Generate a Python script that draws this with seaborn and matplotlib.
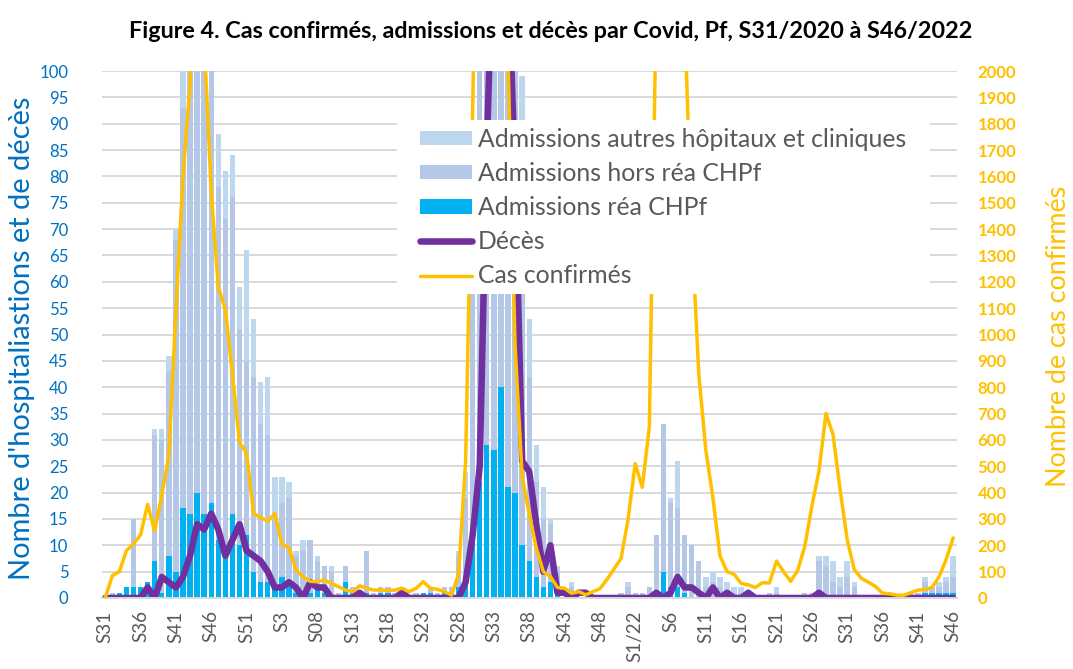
import numpy as np
import pandas as pd
import matplotlib
matplotlib.use("Agg")
import matplotlib.pyplot as plt
import seaborn as sns
from matplotlib.patches import Patch, Rectangle
from matplotlib.lines import Line2D

# ---------------- data (weekly, S31/2020 .. S46/2022) ----------------
tick_labels = ["S31", "S36", "S41", "S46", "S51", "S3", "S08", "S13", "S18", "S23",
               "S28", "S33", "S38", "S43", "S48", "S1/22", "S6", "S11", "S16", "S21",
               "S26", "S31", "S36", "S41", "S46"]

rea = [0, 0, 1, 2, 2, 2, 3, 7, 1, 8,
       5, 17, 16, 20, 16, 18, 11, 10, 16, 10,
       12, 5, 3, 3, 2, 4, 3, 1, 1, 1,
       2, 1, 0, 0, 3, 1, 0, 1, 0, 1,
       1, 0, 0, 0, 0, 1, 1, 0, 1, 1,
       2, 3, 13, 22, 29, 28, 40, 21, 20, 10,
       7, 4, 2, 3, 1, 0, 0, 0, 0, 0,
       0, 0, 0, 0, 0, 0, 0, 0, 0, 5,
       2, 2, 1, 0, 0, 0, 0, 0, 0, 0,
       0, 0, 0, 0, 0, 0, 0, 0, 0, 0,
       0, 0, 0, 0, 0, 0, 0, 0, 0, 0,
       0, 0, 0, 0, 0, 0, 1, 1, 1, 1,
       1]

hors = [0, 1, 0, 0, 13, 0, 0, 24, 29, 35,
        63, 76, 95, 100, 105, 95, 67, 62, 60, 41,
        33, 37, 30, 28, 13, 14, 16, 7, 8, 10,
        5, 5, 5, 1, 3, 1, 1, 8, 1, 1,
        1, 1, 1, 0, 1, 0, 1, 1, 1, 1,
        6, 16, 55, 85, 95, 100, 90, 90, 82, 60,
        35, 18, 13, 11, 4, 0, 2, 0, 0, 0,
        0, 0, 0, 1, 2, 1, 1, 2, 12, 28,
        16, 15, 11, 10, 7, 2, 3, 2, 1, 1,
        1, 1, 0, 0, 1, 1, 0, 0, 0, 1,
        1, 7, 6, 3, 2, 4, 2, 0, 0, 0,
        0, 0, 0, 0, 1, 1, 2, 1, 1, 2,
        3]

autres = [0, 0, 0, 0, 0, 0, 0, 1, 2, 3,
          2, 15, 15, 20, 15, 12, 10, 9, 8, 8,
          21, 11, 8, 11, 8, 5, 3, 1, 2, 0,
          1, 0, 1, 0, 0, 0, 0, 0, 0, 0,
          0, 0, 0, 0, 0, 0, 0, 0, 0, 0,
          1, 5, 12, 20, 25, 30, 25, 20, 8, 29,
          11, 7, 6, 1, 1, 0, 1, 0, 0, 0,
          0, 0, 0, 0, 1, 0, 0, 0, 0, 0,
          1, 9, 0, 0, 0, 2, 2, 2, 2, 1,
          1, 0, 0, 0, 0, 1, 0, 0, 0, 0,
          0, 1, 2, 4, 2, 3, 1, 0, 0, 0,
          0, 0, 0, 0, 0, 0, 1, 0, 1, 1,
          4]

deces = [0, 0, 0, 0, 0, 0, 2, 0, 4, 3,
         2, 4, 8, 14, 13, 16, 13, 8, 11, 14,
         9, 8, 7, 5, 2, 2, 3, 2, 0, 3,
         2, 2, 0, 0, 0, 0, 1, 0, 0, 0,
         0, 0, 1, 0, 0, 0, 0, 0, 0, 0,
         0, 3, 12, 25, 85, 130, 150, 120, 80, 26,
         24, 14, 5, 10, 1, 1, 0, 1, 1, 0,
         0, 0, 0, 0, 0, 0, 0, 0, 1, 0,
         1, 4, 2, 2, 1, 0, 2, 0, 1, 0,
         0, 1, 0, 0, 0, 0, 0, 0, 0, 0,
         0, 1, 0, 0, 0, 0, 0, 0, 0, 0,
         0, 0, 0, 0, 0, 0, 0, 0, 0, 0,
         0]

cas = [0, 85, 100, 180, 205, 240, 355, 255, 390, 540,
       1090, 1600, 1950, 2600, 2120, 1540, 1180, 1095, 850, 590,
       550, 320, 305, 292, 320, 205, 190, 106, 81, 63,
       62, 68, 56, 43, 30, 24, 46, 37, 30, 30,
       28, 30, 37, 24, 37, 62, 37, 33, 24, 11,
       90, 520, 1850, 3500, 5500, 5000, 3500, 2050, 960, 460,
       320, 190, 100, 81, 40, 37, 18, 24, 12, 24,
       35, 70, 110, 150, 300, 510, 420, 650, 2300, 5000,
       8000, 6000, 2200, 1400, 850, 560, 380, 160, 100, 90,
       55, 50, 40, 58, 57, 140, 100, 63, 105, 196,
       348, 480, 700, 620, 411, 222, 108, 75, 60, 44,
       18, 16, 11, 10, 20, 30, 32, 40, 80, 146,
       228]

N = len(rea)
assert all(len(a) == N for a in (hors, autres, deces, cas))
idx = np.arange(N)
df = pd.DataFrame({"semaine": idx, "rea": rea, "hors": hors, "autres": autres,
                   "deces": deces, "cas": cas})
df["rea_hors"] = df["rea"] + df["hors"]
df["total"] = df["rea_hors"] + df["autres"]

# ---------------- style ----------------
sns.set_style("white")
plt.rcParams["font.family"] = ["Lato", "DejaVu Sans"]

C_AUTRES = "#BDD7EE"
C_HORS = "#B4C7E7"
C_REA = "#00B0F0"
C_DECES = "#7030A0"
C_CAS = "#FFC000"
C_BLUE = "#0070C0"
C_TXT = "#595959"
C_GRID = "#D9D9D9"

W, H = 1073, 669
fig = plt.figure(figsize=(W / 100, H / 100), dpi=100)
renderer = fig.canvas.get_renderer()


def fit_size(s, target_px, weight="normal", vertical=False):
    t = fig.text(0, 0, s, fontsize=10, fontweight=weight, rotation=90 if vertical else 0)
    bb = t.get_window_extent(renderer)
    t.remove()
    dim = bb.height if vertical else bb.width
    return 10.0 * target_px / dim


left, right, top, bottom = 101.7, 956.7, 71.0, 598.0
ax = fig.add_axes([left / W, 1 - bottom / H, (right - left) / W, (bottom - top) / H])

# stacked bars (drawn as overlaid cumulative heights)
sns.barplot(data=df, x="semaine", y="total", color=C_AUTRES, width=0.76, saturation=1,
            errorbar=None, linewidth=0, ax=ax)
sns.barplot(data=df, x="semaine", y="rea_hors", color=C_HORS, width=0.76, saturation=1,
            errorbar=None, linewidth=0, ax=ax)
sns.barplot(data=df, x="semaine", y="rea", color=C_REA, width=0.76, saturation=1,
            errorbar=None, linewidth=0, ax=ax)

# deaths line (left axis)
sns.lineplot(data=df, x="semaine", y="deces", color=C_DECES, linewidth=4.7, ax=ax,
             solid_capstyle="round", solid_joinstyle="round")

ax.set_xlim(-0.5, N - 0.5)
ax.set_ylim(0, 100)
ax.set_yticks(np.arange(0, 101, 5))
ax.set_axisbelow(True)
ax.yaxis.grid(True, color=C_GRID, linewidth=1.4)
ax.xaxis.grid(False)
for sp in ("top", "left", "right"):
    ax.spines[sp].set_visible(False)
ax.spines["bottom"].set_color(C_GRID)
ax.spines["bottom"].set_linewidth(1.4)
ax.set_xlabel("")
ax.set_ylabel("")

# cases line (right axis)
ax2 = ax.twinx()
sns.lineplot(data=df, x="semaine", y="cas", color=C_CAS, linewidth=2.5, ax=ax2,
             solid_capstyle="round", solid_joinstyle="round")
ax2.set_ylim(0, 2000)
ax2.set_yticks(np.arange(0, 2001, 100))
ax2.set_xlim(-0.5, N - 0.5)
ax2.grid(False)
for sp in ax2.spines.values():
    sp.set_visible(False)
ax2.set_xlabel("")
ax2.set_ylabel("")

# tick labels
ytick_fs = fit_size("100", 29)
xtick_fs = fit_size("S31", 32, vertical=True)
ax.set_xticks(np.arange(0, N, 5))
ax.set_xticklabels(tick_labels, rotation=90, color=C_TXT, fontsize=xtick_fs, va="top")
ax.tick_params(axis="x", length=0, pad=9)
ax.tick_params(axis="y", length=0, pad=24, labelcolor=C_BLUE, labelsize=ytick_fs)
ax2.tick_params(axis="y", length=0, pad=15, labelcolor=C_CAS, labelsize=ytick_fs)
for t in ax2.get_yticklabels():
    t.set_fontweight("bold")

# title and axis titles
title = "Figure 4. Cas confirmés, admissions et décès par Covid, Pf, S31/2020 à S46/2022"
fig.text(551 / W, 1 - 32 / H, title, ha="center", va="center", fontweight="bold",
         color="black", fontsize=fit_size(title, 847, weight="bold"))
ylab = "Nombre d'hospitaliastions et de décès"
fig.text(22 / W, 1 - 338 / H, ylab, rotation=90, ha="center", va="center",
         color=C_BLUE, fontsize=fit_size(ylab, 485, vertical=True))
y2lab = "Nombre de cas confirmés"
fig.text(1058 / W, 1 - 336 / H, y2lab, rotation=90, ha="center", va="center",
         color=C_CAS, fontsize=fit_size(y2lab, 302, vertical=True))

# legend: white box behind it, covering gridlines / marks
box = Rectangle((397 / W, 1 - 294 / H), (930 - 397) / W, (294 - 120) / H,
                transform=fig.transFigure, facecolor="white", edgecolor="none",
                zorder=9, clip_on=False)
ax2.add_patch(box)

leg_fs = fit_size("Admissions autres hôpitaux et cliniques", 428)
fs_px = leg_fs * 100 / 72
handles = [Patch(facecolor=C_AUTRES, edgecolor="none"),
           Patch(facecolor=C_HORS, edgecolor="none"),
           Patch(facecolor=C_REA, edgecolor="none"),
           Line2D([], [], color=C_DECES, linewidth=4.7, solid_capstyle="round"),
           Line2D([], [], color=C_CAS, linewidth=2.5)]
labels = ["Admissions autres hôpitaux et cliniques", "Admissions hors réa CHPf",
          "Admissions réa CHPf", "Décès", "Cas confirmés"]
leg = ax2.legend(handles, labels, loc="upper left",
                 bbox_to_anchor=(420 / W, 1 - 128 / H), bbox_transform=fig.transFigure,
                 fontsize=leg_fs, frameon=False, borderpad=0, borderaxespad=0,
                 handlelength=52 / fs_px, handleheight=0.5, handletextpad=6 / fs_px,
                 labelspacing=0.45)
for t in leg.get_texts():
    t.set_color(C_TXT)
leg.set_zorder(10)

fig.savefig("out.png", dpi=100)
